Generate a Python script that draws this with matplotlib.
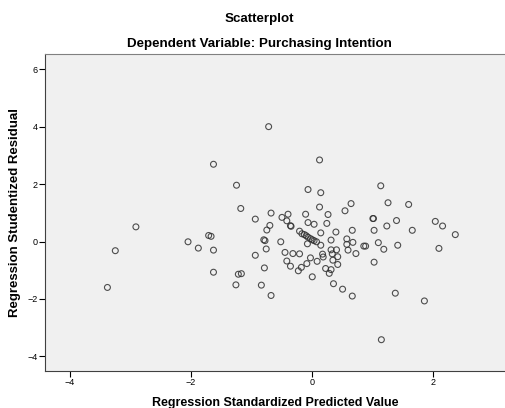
### residual scatterplot (SPSS style)
import numpy as np
import matplotlib.pyplot as plt

plt.rcParams['font.family'] = ['Liberation Sans', 'DejaVu Sans']

# standardized predicted value vs studentized residual
pred = [-2.91, -3.25, -3.38, -2.05, -1.88, -1.63, -1.71, -1.67, -1.63, -1.63,
        -1.25, -1.18, -1.22, -1.17, -1.26, -0.94, -0.94, -0.84, -0.79, -0.80,
        -0.78, -0.76, -0.75, -0.72, -0.70, -0.68, -0.68, -0.52, -0.50, -0.45,
        -0.42, -0.40, -0.42, -0.36, -0.35, -0.36, -0.32, -0.23, -0.21, -0.21,
        -0.18, -0.11, -0.09, -0.07, -0.07, -0.08, -0.03, 0.00, 0.03, 0.08,
        0.12, 0.14, 0.12, 0.14, 0.14, 0.17, 0.18, 0.22, 0.24, 0.26,
        0.28, 0.31, 0.31, 0.31, 0.33, 0.34, 0.35, 0.39, 0.40, 0.42,
        0.42, 0.50, 0.54, 0.57, 0.57, 0.59, 0.64, 0.66, 0.67, 0.66,
        0.72, 0.85, 0.88, 1.00, 1.01, 1.02, 1.02, 1.09, 1.13, 1.14,
        1.18, 1.23, 1.25, 1.37, 1.39, 1.41, 1.59, 1.65, 1.85, 2.03,
        2.09, 2.15, 2.36,
        -0.17, -0.13, -0.10, -0.07, -0.03, 0.00, 0.03, 0.07]
resid = [0.51, -0.32, -1.60, -0.01, -0.23, -0.30, 0.21, 0.18, 2.69, -1.07,
         1.96, 1.15, -1.14, -1.12, -1.51, 0.78, -0.48, -1.52, -0.92, 0.06,
         0.03, -0.26, 0.40, 4.00, 0.56, 0.99, -1.88, -0.01, 0.84, -0.38,
         0.72, 0.95, -0.68, 0.55, 0.53, -0.86, -0.42, -1.02, 0.36, -0.43,
         -0.90, 0.95, -0.77, 1.81, 0.66, -0.08, -0.57, -1.23, 0.60, -0.69,
         2.84, 1.70, 1.20, 0.30, -0.13, -0.44, -0.54, -0.94, 0.63, 0.94,
         -1.11, -0.98, 0.05, -0.29, -0.43, -0.65, -1.47, 0.33, -0.29, -0.53,
         -0.80, -1.66, 1.07, 0.09, -0.10, -0.30, 1.32, 0.39, -0.03, -1.90,
         -0.42, -0.16, -0.16, 0.80, 0.80, 0.39, -0.72, -0.04, 1.94, -3.42,
         -0.27, 0.54, 1.35, -1.80, 0.73, -0.13, 1.29, 0.39, -2.07, 0.70,
         -0.24, 0.54, 0.24,
         0.27, 0.24, 0.20, 0.15, 0.10, 0.06, 0.03, -0.01]

xticks = [-4, -2, 0, 2]
yticks = [-4, -2, 0, 2, 4, 6]

fig = plt.figure(figsize=(5.06, 4.08), dpi=100)
ax = fig.add_axes([45/506, 1 - 371/408, 460/506, 317/408])
ax.set_facecolor('#f0f0f0')

ax.scatter(pred, resid, s=18, facecolors='none', edgecolors='#303030',
           linewidths=0.8, alpha=0.85)

ax.set_xlim(-4.41, 3.18)
ax.set_ylim(-4.51, 6.53)
ax.set_xticks(xticks)
ax.set_yticks(yticks)
ax.tick_params(labelsize=6.5, length=4, width=0.8, pad=1)

ax.spines['top'].set_color('#808080')
ax.spines['right'].set_visible(False)
for s in ['left', 'bottom']:
    ax.spines[s].set_color('#404040')

ax.set_xlabel('Regression Standardized Predicted Value', fontsize=9,
              fontweight='bold', labelpad=7)
ax.set_ylabel('Regression Studentized Residual', fontsize=9.5,
              fontweight='bold', labelpad=5)

fig.text(259/506, 1 - 19/408, 'Scatterplot', fontsize=9.6, fontweight='bold',
         ha='center', va='center')
fig.text(259/506, 1 - 44/408, 'Dependent Variable: Purchasing Intention',
         fontsize=9.6, fontweight='bold', ha='center', va='center')

plt.savefig('out.png', dpi=100)
